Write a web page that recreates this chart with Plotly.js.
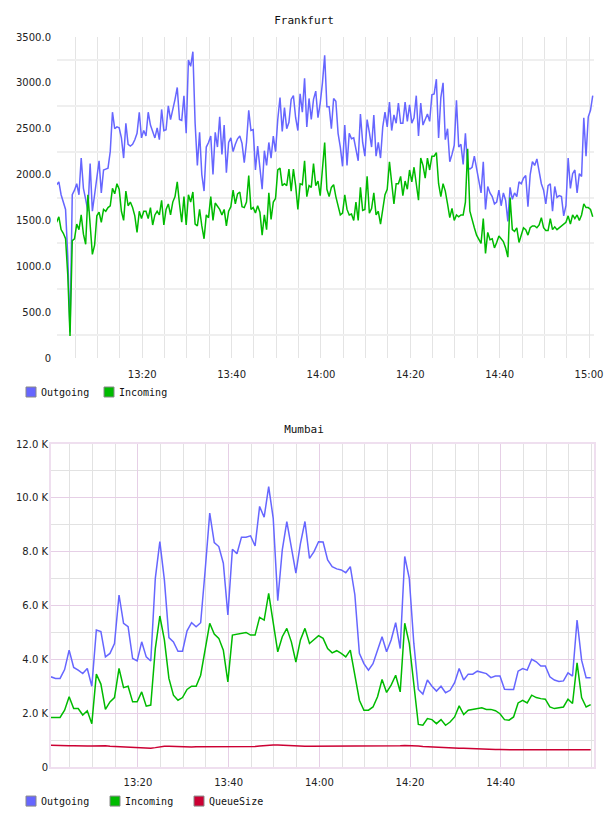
<!DOCTYPE html>
<html>
<head>
<meta charset="utf-8">
<script src="https://cdn.plot.ly/plotly-3.0.1.min.js"></script>
<style>
  html, body { margin: 0; padding: 0; background: #ffffff; }
  #frankfurt { position: absolute; left: 0; top: 0; width: 608px; height: 405px; }
  #mumbai { position: absolute; left: 0; top: 405px; width: 608px; height: 411px; }
  /* legend shows coloured squares only, like the original */
  .scatterlayer .points { display: none; }
  .legend .legendlines { display: none; }
  .legend .legendpoints path { transform: translate(30px, 0px) !important; }
  .legend .scrollbox { clip-path: none !important; }
</style>
</head>
<body>
<div id="frankfurt"></div>
<div id="mumbai"></div>
<script>
// ---------------- DATA ----------------
const DAY = '2024-05-01';

// Frankfurt: one sample every 30 s starting 13:00:50
const frankfurtStart = '13:00:50';
const frankfurtStepSec = 30;
const frankfurtOutgoing = [
  1890, 1920, 1780, 1700, 1620, 1100, 280, 1780, 1830,
  1900, 1780, 2180, 1850, 1730, 1600, 2120, 1600, 1780, 2000,
  2150, 1800, 2050, 2060, 2070, 2250, 2680, 2500, 2520, 2510,
  2400, 2180, 2560, 2330, 2310, 2330, 2380, 2450, 2680, 2400,
  2480, 2420, 2680, 2540, 2480, 2400, 2510, 2380, 2710, 2480,
  2490, 2750, 2600, 2700, 2820, 2950, 2600, 2590, 2860, 2450,
  3250, 3180, 3340, 2560, 2100, 2460, 2000, 1820, 2300, 2350,
  2420, 2000, 2460, 2300, 2630, 2220, 2540, 2020, 2350, 2400,
  2250, 2330, 2390, 2420, 2340, 2130, 2350, 2700, 2480, 2490,
  2050, 2310, 2060, 1840, 2260, 2100, 2350, 2180, 2420, 2250,
  2600, 2840, 2470, 2730, 2500, 2570, 2820, 2860, 2620, 2480,
  2880, 2680, 3050, 2520, 2830, 2600, 2820, 2910, 2620, 2780,
  3000, 3300, 2740, 2740, 2500, 2830, 2800, 2450, 2300, 2090,
  2540, 2100, 2450, 2390, 2400, 2260, 2150, 2660, 2350, 2200,
  2600, 2460, 2300, 2650, 2200, 2350, 2180, 2520, 2680, 2520,
  2790, 2480, 2650, 2560, 2780, 2560, 2560, 2790, 2580, 2760,
  2560, 2620, 2860, 2420, 2780, 2540, 2600, 2660, 2580, 2870,
  2880, 3040, 2400, 2840, 3000, 2380, 2500, 2140, 2220, 2320,
  2810, 2300, 2330, 2110, 2450, 2080, 2060, 2080, 2200, 2080,
  1930, 1800, 2140, 1620, 1870, 1800, 1760, 1680, 1700, 1830,
  1660, 1800, 1720, 1490, 1860, 1730, 1800, 1760, 1920, 1900,
  1960, 1990, 1650, 2000, 2140, 2100, 2170, 2040, 1900, 1830,
  1680, 1880, 1900, 1600, 1870, 1750, 1770, 1760, 1550, 1660,
  2180, 1850, 2010, 2050, 1800, 2010, 1980, 2620, 2200, 2630,
  2700, 2860
];
const frankfurtIncoming = [
  1480, 1540, 1400, 1360, 1300, 900, 240, 1280, 1300,
  1460, 1400, 1560, 1350, 1240, 1780, 1500, 1130, 1230, 1550,
  1590, 1480, 1620, 1600, 1640, 1660, 1850, 1790, 1900, 1840,
  1600, 1500, 1820, 1660, 1700, 1640, 1550, 1370, 1600, 1520,
  1600, 1600, 1520, 1640, 1450, 1560, 1600, 1560, 1720, 1450,
  1620, 1680, 1560, 1700, 1760, 1920, 1680, 1480, 1760, 1450,
  1780, 1700, 1810, 1460, 1440, 1620, 1440, 1300, 1560, 1530,
  1760, 1500, 1690, 1660, 1620, 1560, 1620, 1440, 1600, 1650,
  1830, 1680, 1790, 1810, 1650, 1640, 1700, 1990, 1620, 1640,
  1580, 1660, 1590, 1340, 1560, 1400, 1800, 1510, 1700, 1740,
  2050, 2070, 1880, 1900, 1880, 2060, 1820, 2060, 1880, 1620,
  1900, 1890, 2150, 1760, 1880, 1860, 2120, 1880, 1930, 1770,
  2100, 2350, 1840, 1760, 1860, 1890, 1760, 1660, 1560, 1580,
  1780, 1620, 1560, 1570, 1500, 1700, 1500, 1860, 1610, 1620,
  1980, 1580, 1630, 1800, 1560, 1600, 1460, 1620, 1780, 1840,
  2140, 1910, 1680, 1900, 1900, 1980, 1770, 1930, 1840, 2050,
  1920, 2080, 1870, 1720, 2180, 2100, 1960, 2180, 2050, 2200,
  2200, 2240, 1900, 1760, 1900, 1820, 1680, 1530, 1630, 1500,
  1560, 1540, 1560, 1560, 1700, 2280, 1600, 1500, 1420, 1340,
  1300, 1250, 1520, 1140, 1370, 1290, 1300, 1200, 1260, 1330,
  1300, 1270, 1200, 1100, 1750, 1400, 1380, 1420, 1260, 1350,
  1420, 1400, 1340, 1420, 1440, 1440, 1420, 1450, 1530, 1420,
  1390, 1390, 1520, 1400, 1430, 1400, 1420, 1450, 1460, 1480,
  1550, 1460, 1560, 1520, 1560, 1500, 1560, 1680, 1640, 1640,
  1620, 1540
];

// Mumbai: one sample every minute starting 13:00:50, values in thousands
const mumbaiStart = '13:00:50';
const mumbaiStepSec = 60;
const mumbaiOutgoing = [
  3.35, 3.29, 3.29, 3.62, 4.34, 3.70, 3.60, 3.47, 3.66, 3.00,
  5.09, 5.03, 4.09, 4.22, 4.59, 6.39, 5.34, 5.21, 4.03, 3.94,
  4.65, 4.09, 3.94, 7.01, 8.37, 6.95, 4.81, 4.65, 4.30, 4.30,
  5.06, 5.36, 5.21, 5.36, 7.32, 9.43, 8.34, 8.19, 7.57, 5.65,
  8.09, 7.92, 8.54, 8.54, 8.59, 8.21, 9.68, 9.28, 10.42, 9.24,
  6.18, 8.07, 9.12, 8.19, 7.20, 8.30, 9.12, 7.75, 8.00, 8.37,
  8.36, 7.69, 7.44, 7.36, 7.32, 7.22, 7.44, 6.40, 4.22, 3.84,
  3.60, 3.84, 4.34, 4.84, 4.28, 4.72, 5.36, 4.40, 7.82, 7.01,
  4.60, 2.88, 2.71, 3.23, 3.00, 2.82, 3.00, 2.76, 2.85, 3.13,
  3.66, 3.23, 3.45, 3.45, 3.56, 3.52, 3.47, 3.32, 3.38, 3.38,
  2.89, 2.88, 2.88, 3.56, 3.66, 3.60, 4.00, 3.91, 3.75, 3.75,
  3.35, 3.23, 3.18, 3.20, 3.50, 3.38, 5.46, 3.97, 3.32, 3.32
];
const mumbaiIncoming = [
  1.84, 1.83, 1.84, 2.11, 2.61, 2.17, 2.17, 1.93, 2.09, 1.61,
  3.45, 3.08, 2.14, 2.42, 2.58, 3.66, 2.95, 3.00, 2.42, 2.42,
  2.79, 2.26, 2.30, 4.40, 5.61, 4.72, 3.29, 2.67, 2.48, 2.58,
  2.88, 3.00, 3.00, 3.41, 4.34, 5.34, 4.94, 4.78, 4.34, 3.16,
  4.90, 4.94, 4.96, 5.00, 4.90, 4.90, 5.56, 5.46, 6.45, 5.34,
  4.28, 4.84, 5.15, 4.65, 3.90, 4.72, 5.15, 4.59, 4.72, 4.88,
  4.78, 4.40, 4.24, 4.32, 4.22, 4.09, 4.34, 3.47, 2.48, 2.11,
  2.11, 2.23, 2.61, 3.25, 2.77, 3.04, 3.41, 2.79, 5.34, 4.59,
  3.00, 1.58, 1.55, 1.80, 1.76, 1.61, 1.76, 1.55, 1.67, 1.86,
  2.27, 1.95, 2.11, 2.14, 2.15, 2.20, 2.14, 2.14, 2.09, 1.98,
  1.76, 1.74, 1.86, 2.38, 2.48, 2.38, 2.67, 2.58, 2.54, 2.52,
  2.23, 2.17, 2.20, 2.23, 2.52, 2.36, 3.87, 2.58, 2.23, 2.32
];
const mumbaiQueueSize = [
  0.81, 0.80, 0.80, 0.79, 0.79, 0.79, 0.78, 0.78, 0.78, 0.78,
  0.79, 0.80, 0.79, 0.77, 0.76, 0.75, 0.74, 0.73, 0.72, 0.71,
  0.70, 0.70, 0.70, 0.72, 0.75, 0.77, 0.77, 0.76, 0.76, 0.75,
  0.74, 0.74, 0.75, 0.75, 0.74, 0.74, 0.74, 0.74, 0.74, 0.74,
  0.75, 0.75, 0.75, 0.75, 0.75, 0.76, 0.78, 0.80, 0.82, 0.82,
  0.82, 0.81, 0.79, 0.78, 0.78, 0.78, 0.77, 0.77, 0.77, 0.77,
  0.77, 0.77, 0.77, 0.77, 0.77, 0.77, 0.77, 0.77, 0.77, 0.77,
  0.77, 0.77, 0.77, 0.77, 0.78, 0.78, 0.78, 0.79, 0.80, 0.80,
  0.79, 0.78, 0.76, 0.75, 0.74, 0.73, 0.72, 0.72, 0.71, 0.71,
  0.70, 0.70, 0.69, 0.69, 0.68, 0.68, 0.67, 0.66, 0.65, 0.65,
  0.64, 0.64, 0.64, 0.64, 0.64, 0.64, 0.64, 0.64, 0.64, 0.64,
  0.64, 0.64, 0.64, 0.64, 0.65, 0.65, 0.65, 0.65, 0.64, 0.64
];

// Tick labels
const frankfurtXTicks = ['13:20', '13:40', '14:00', '14:20', '14:40', '15:00'];
const frankfurtYTickVals = [0, 500, 1000, 1500, 2000, 2500, 3000, 3500];
const frankfurtYTickText = ['0', '500.0', '1000.0', '1500.0', '2000.0', '2500.0', '3000.0', '3500.0'];
const mumbaiXTicks = ['13:20', '13:40', '14:00', '14:20', '14:40'];
const mumbaiYTickVals = [0, 2, 4, 6, 8, 10, 12];
const mumbaiYTickText = ['0', '2.0 K', '4.0 K', '6.0 K', '8.0 K', '10.0 K', '12.0 K'];

// ---------------- HELPERS ----------------
function pad(n) { return (n < 10 ? '0' : '') + n; }
function makeTimes(startHMS, stepSec, n) {
  const p = startHMS.split(':').map(Number);
  const base = p[0] * 3600 + p[1] * 60 + p[2];
  const out = [];
  for (let i = 0; i < n; i++) {
    const t = base + i * stepSec;
    out.push(DAY + ' ' + pad(Math.floor(t / 3600)) + ':' + pad(Math.floor((t % 3600) / 60)) + ':' + pad(t % 60));
  }
  return out;
}
function at(hm) { return DAY + ' ' + hm; }

const COL_OUT = '#6666ff';
const COL_IN = '#00bb00';
const COL_Q = '#cc0033';
const MONO = '"DejaVu Sans Mono", monospace';
const SANS = '"DejaVu Sans", sans-serif';

function lineTrace(x, y, name, color) {
  return {
    type: 'scatter', mode: 'lines+markers', x: x, y: y, name: name,
    line: { color: color, width: 1.5 },
    marker: { symbol: 'square', size: 10, color: color, line: { color: '#888888', width: 1 } },
    hoverinfo: 'skip'
  };
}

// ---------------- FRANKFURT ----------------
const fTimes = makeTimes(frankfurtStart, frankfurtStepSec, frankfurtOutgoing.length);
const fTraces = [
  lineTrace(fTimes, frankfurtOutgoing, 'Outgoing', COL_OUT),
  lineTrace(fTimes, frankfurtIncoming, 'Incoming', COL_IN)
];
const fLayout = {
  width: 608, height: 405,
  margin: { l: 57, r: 14, t: 37, b: 47, autoexpand: false },
  paper_bgcolor: '#ffffff', plot_bgcolor: '#ffffff',
  title: { text: 'Frankfurt', font: { family: MONO, size: 11, color: '#111' },
           x: 0.5, xanchor: 'center', y: 1 - 20.5 / 405, yanchor: 'middle' },
  xaxis: {
    type: 'date', range: [at('13:00:55'), at('15:01:07')],
    tickvals: frankfurtXTicks.map(at), ticktext: frankfurtXTicks,
    showgrid: true, gridcolor: '#e4e4e4', gridwidth: 1,
    minor: { tick0: at('13:00:00'), dtick: 300000, showgrid: true, gridcolor: '#e4e4e4', gridwidth: 1 },
    zeroline: false, showline: false, ticks: '', ticklabelstandoff: 9,
    tickfont: { family: SANS, size: 10, color: '#222' }, fixedrange: true
  },
  yaxis: {
    range: [0, 3500], tickvals: frankfurtYTickVals, ticktext: frankfurtYTickText,
    showgrid: false,
    minor: { tick0: 250, dtick: 500, showgrid: true, gridcolor: '#efefef', gridwidth: 2 },
    zeroline: false, showline: false, ticks: '', ticklabelstandoff: 5,
    tickfont: { family: SANS, size: 10, color: '#222' }, fixedrange: true
  },
  showlegend: true,
  legend: {
    orientation: 'h', x: -56 / 537, xanchor: 'left', y: -34 / 321, yanchor: 'middle',
    font: { family: MONO, size: 10, color: '#111' },
    entrywidth: 33, entrywidthmode: 'pixels', bgcolor: 'rgba(0,0,0,0)', borderwidth: 0,
    itemclick: false, itemdoubleclick: false
  }
};
Plotly.newPlot('frankfurt', fTraces, fLayout, { staticPlot: true, displayModeBar: false });

// ---------------- MUMBAI ----------------
const mTimes = makeTimes(mumbaiStart, mumbaiStepSec, mumbaiOutgoing.length);
const mTraces = [
  lineTrace(mTimes, mumbaiOutgoing, 'Outgoing', COL_OUT),
  lineTrace(mTimes, mumbaiIncoming, 'Incoming', COL_IN),
  lineTrace(mTimes, mumbaiQueueSize, 'QueueSize', COL_Q)
];
const PINK = '#e6cfe6';
const mLayout = {
  width: 608, height: 411,
  margin: { l: 51, r: 14, t: 39, b: 49, autoexpand: false },
  paper_bgcolor: '#ffffff', plot_bgcolor: '#ffffff',
  title: { text: 'Mumbai', font: { family: MONO, size: 11, color: '#111' },
           x: 0.5, xanchor: 'center', y: 1 - 24 / 411, yanchor: 'middle' },
  xaxis: {
    type: 'date', range: [at('13:00:50'), at('15:00:34')],
    tickvals: mumbaiXTicks.map(at), ticktext: mumbaiXTicks,
    showgrid: true, gridcolor: PINK, gridwidth: 1,
    minor: { tick0: at('13:00:00'), dtick: 300000, showgrid: true, gridcolor: '#e2e2e2', gridwidth: 1 },
    zeroline: false, showline: true, mirror: true, linecolor: '#efdfef', linewidth: 2,
    ticks: '', ticklabelstandoff: 5,
    tickfont: { family: SANS, size: 10, color: '#222' }, fixedrange: true
  },
  yaxis: {
    range: [0, 12], tickvals: mumbaiYTickVals, ticktext: mumbaiYTickText,
    showgrid: true, gridcolor: PINK, gridwidth: 1,
    minor: { tick0: 1, dtick: 2, showgrid: true, gridcolor: '#e2e2e2', gridwidth: 1 },
    zeroline: false, showline: true, mirror: true, linecolor: '#efdfef', linewidth: 2,
    ticks: '', ticklabelstandoff: -1,
    tickfont: { family: SANS, size: 10, color: '#222' }, fixedrange: true
  },
  showlegend: true,
  legend: {
    orientation: 'h', x: -50 / 543, xanchor: 'left', y: -34 / 322.4, yanchor: 'middle',
    font: { family: MONO, size: 10, color: '#111' },
    entrywidth: 39, entrywidthmode: 'pixels', bgcolor: 'rgba(0,0,0,0)', borderwidth: 0,
    itemclick: false, itemdoubleclick: false
  }
};
Plotly.newPlot('mumbai', mTraces, mLayout, { staticPlot: true, displayModeBar: false });
</script>
</body>
</html>
